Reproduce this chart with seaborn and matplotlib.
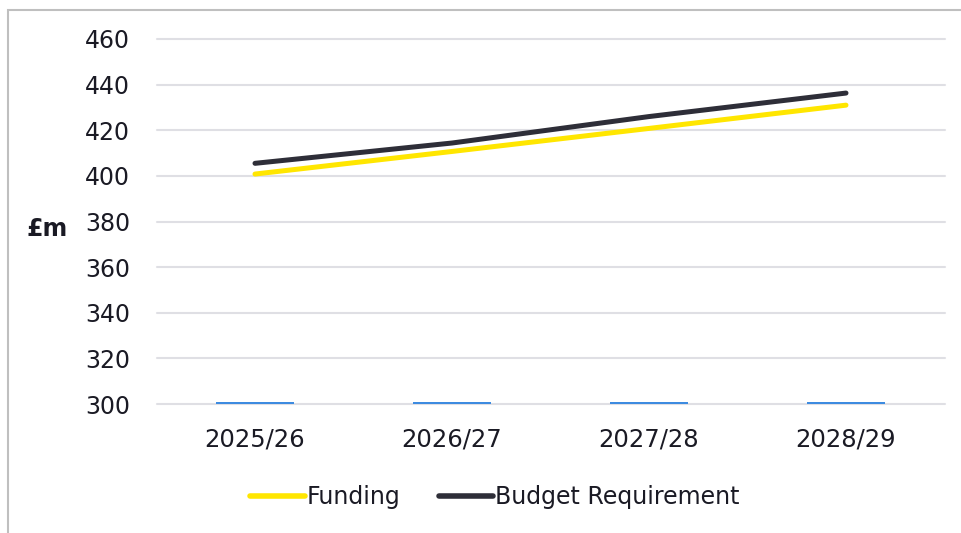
import matplotlib
matplotlib.use("Agg")
import matplotlib.pyplot as plt
import seaborn as sns
import pandas as pd
from matplotlib.patches import Rectangle
from matplotlib.lines import Line2D

years = ["2025/26", "2026/27", "2027/28", "2028/29"]
funding = [400.8, 410.7, 420.8, 431.0]
budget = [405.5, 414.4, 426.0, 436.3]
baseline_bars = [300.7, 300.7, 300.7, 300.7]
y_ticks = [300, 320, 340, 360, 380, 400, 420, 440, 460]

sns.set_theme(style="white")
plt.rcParams["font.family"] = ["DejaVu Sans"]

df = pd.DataFrame({"Year": years, "Funding": funding, "Budget Requirement": budget})
long = df.melt(id_vars="Year", var_name="Series", value_name="Value")

fig = plt.figure(figsize=(9.61, 5.33), dpi=100)
ax = fig.add_axes([156.5 / 961, 1 - 404 / 533, 788 / 961, 365 / 533])

for y in y_ticks:
    ax.axhline(y, color="#DFDFE4", lw=1.5, zorder=0, clip_on=False)

bar_df = pd.DataFrame({"Year": years, "Value": [v - 300 for v in baseline_bars]})
sns.barplot(data=bar_df, x="Year", y="Value", ax=ax, color="#3D8BE0",
            width=0.4, bottom=300, saturation=1, edgecolor="none",
            linewidth=0, zorder=2)
for p in ax.patches:
    p.set_facecolor("#3D8BE0")

sns.lineplot(data=long, x="Year", y="Value", hue="Series",
             palette={"Funding": "#FFE600", "Budget Requirement": "#2E2E38"},
             lw=3.6, ax=ax, sort=False, zorder=3, legend=False)
for l in ax.lines:
    l.set_solid_capstyle("round")

ax.set_xlim(-0.5, 3.5)
ax.set_ylim(300, 460)
ax.set_yticks(y_ticks)
ax.set_yticklabels([str(v) for v in y_ticks], fontsize=17, color="#1A1A24")
ax.set_xticks(range(len(years)))
ax.set_xticklabels(years, fontsize=17.5, color="#1A1A24")
ax.tick_params(axis="y", pad=19, length=0)
ax.tick_params(axis="x", pad=17, length=0)
ax.set_xlabel("")
ax.set_ylabel("")
for s in ax.spines.values():
    s.set_visible(False)

fig.text(47 / 961, 1 - 229 / 533, "£m", fontsize=17, fontweight="semibold",
         ha="center", va="center", color="#1A1A24")

handles = [Line2D([], [], color="#FFE600", lw=4, solid_capstyle="round"),
           Line2D([], [], color="#2E2E38", lw=4, solid_capstyle="round")]
fig.legend(handles, ["Funding", "Budget Requirement"], loc="center",
           bbox_to_anchor=(495 / 961, 1 - 497 / 533), ncol=2, frameon=False,
           fontsize=17, handlelength=2.3, handletextpad=0.1, columnspacing=1.6,
           labelcolor="#1A1A24")

fig.patches.append(Rectangle((8 / 961, -0.05), 1.1, 1 - 10 / 533 + 0.05,
                             transform=fig.transFigure, fill=False,
                             edgecolor="#BFBFBF", lw=1.5))

fig.savefig("out.png", dpi=100)
